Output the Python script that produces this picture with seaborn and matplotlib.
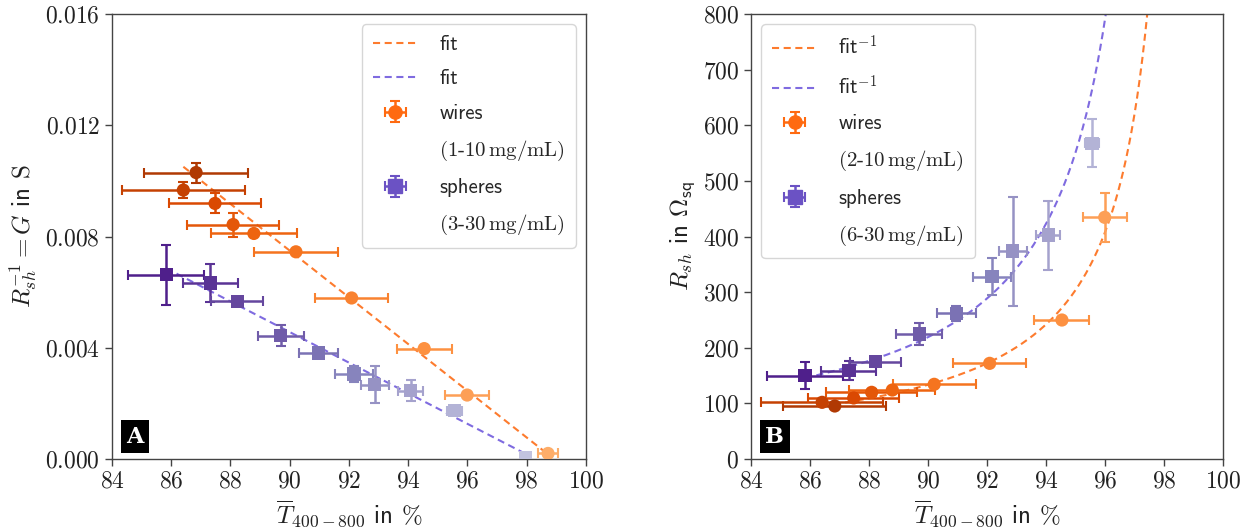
import numpy as np
import pandas as pd
import matplotlib
matplotlib.use("Agg")
import matplotlib.pyplot as plt
import matplotlib.ticker as ticker
from matplotlib.lines import Line2D
import seaborn as sns

# wires, ordered from highest to lowest concentration (10 ... 1 mg/mL)
wires_conc = [10, 9, 8, 7, 6, 5, 4, 3, 2, 1]
wires_T = [86.84, 86.41, 87.48, 88.09, 88.79, 90.21, 92.09, 94.54, 95.99, 98.72]
wires_T_err = [1.75, 2.07, 1.54, 1.55, 1.46, 1.41, 1.24, 0.93, 0.74, 0.35]
wires_G = [0.01030, 0.00967, 0.00919, 0.00843, 0.00811, 0.00745, 0.00579, 0.00397, 0.00230, 0.00020]
wires_G_err = [0.00036, 0.00030, 0.00036, 0.00043, 0.00010, 0.00010, 0.00008, 0.00008, 0.00010, 0.00005]
# sheet resistance, right panel (2 ... 10 mg/mL only)
wires_R = [95.3, 101.9, 109.7, 119.9, 124.0, 134.3, 172.0, 249.9, 434.5]
wires_R_err = [3, 3, 4, 6, 2, 2, 3, 6, 44]

# spheres, ordered from highest to lowest concentration (30 ... 3 mg/mL)
spheres_conc = [30, 27, 24, 21, 18, 15, 12, 9, 6, 3]
spheres_T = [85.83, 87.32, 88.23, 89.70, 90.96, 92.17, 92.87, 94.08, 95.56, 97.95]
spheres_T_err = [1.29, 0.93, 0.87, 0.78, 0.66, 0.65, 0.47, 0.41, 0.25, 0.15]
spheres_G = [0.00663, 0.00633, 0.00567, 0.00444, 0.00381, 0.00306, 0.00267, 0.00245, 0.00174, 0.00005]
spheres_G_err = [0.00108, 0.00069, 0.00010, 0.00038, 0.00010, 0.00030, 0.00067, 0.00038, 0.00008, 0.00002]
spheres_R = [149.8, 158.7, 174.9, 224.7, 261.9, 327.7, 373.9, 402.7, 567.6]
spheres_R_err = [24, 17, 5, 19.5, 14, 33.6, 98, 62, 43.5]

# linear fits G = slope * (T0 - T)
wires_fit = (0.00084, 98.92)
spheres_fit = (0.00055, 98.30)

sns.set_theme(style="ticks")
plt.rcParams["font.family"] = ["cmss10", "DejaVu Sans"]
plt.rcParams["mathtext.fontset"] = "cm"
plt.rcParams["axes.unicode_minus"] = False
plt.rcParams["axes.edgecolor"] = "#444444"
plt.rcParams["axes.linewidth"] = 1.0
plt.rcParams["xtick.color"] = "#444444"
plt.rcParams["ytick.color"] = "#444444"
plt.rcParams["xtick.labelcolor"] = "#222222"
plt.rcParams["ytick.labelcolor"] = "#222222"

oranges = sns.color_palette("Oranges", as_cmap=True)
purples = sns.color_palette("Purples", as_cmap=True)
wire_colors = [oranges(v) for v in np.linspace(0.85, 0.38, len(wires_conc))]
sphere_colors = [purples(v) for v in np.linspace(0.9, 0.35, len(spheres_conc))]
fit_orange = "#fd7b2e"
fit_purple = "#7f6be0"
legend_orange = "#ff6a10"
legend_purple = "#6b52c4"

ms = 9.5
dash = (0, (3.4, 2.2))
eb_kw = dict(fmt="none", elinewidth=1.8, capsize=3.5, capthick=1.5, zorder=2)


def draw_points(ax, T, Terr, Y, Yerr, conc, colors, marker):
    n = len(Y)
    df = pd.DataFrame({"T": T[:n], "Y": Y, "conc": conc[:n]})
    pal = {c: col for c, col in zip(conc[:n], colors[:n])}
    for t, te, y, ye, col in zip(T[:n], Terr[:n], Y, Yerr, colors[:n]):
        ax.errorbar(t, y, xerr=te, yerr=ye, ecolor=col, **eb_kw)
    sns.scatterplot(data=df, x="T", y="Y", hue="conc", palette=pal, marker=marker,
                    s=ms ** 2, linewidth=0, legend=False, zorder=3, ax=ax)


def fit_curve(T, fit, inverse=False):
    t = np.linspace(min(T), max(T), 400)
    g = fit[0] * (fit[1] - t)
    return t, (1.0 / g if inverse else g)


fig = plt.figure(figsize=(12.55, 5.29), dpi=100)
axA = fig.add_axes([0.0892, 0.1323, 0.3777, 0.8412])
axB = fig.add_axes([0.5984, 0.1323, 0.3761, 0.8412])

panels = [
    (axA, wires_G, wires_G_err, spheres_G, spheres_G_err, False, "fit",
     r"$(1$-$10\,\mathrm{mg/mL})$", r"$(3$-$30\,\mathrm{mg/mL})$", "upper right"),
    (axB, wires_R, wires_R_err, spheres_R, spheres_R_err, True, r"fit$^{-1}$",
     r"$(2$-$10\,\mathrm{mg/mL})$", r"$(6$-$30\,\mathrm{mg/mL})$", "upper left"),
]

for ax, wy, wye, sy, sye, inv, fitlab, wlab, slab, loc in panels:
    tw, yw = fit_curve(wires_T, wires_fit, inv)
    ts, ys = fit_curve(spheres_T, spheres_fit, inv)
    sns.lineplot(x=tw, y=yw, color=fit_orange, linewidth=1.5, ax=ax, zorder=1)
    l1 = ax.lines[-1]
    l1.set_linestyle(dash)
    sns.lineplot(x=ts, y=ys, color=fit_purple, linewidth=1.5, ax=ax, zorder=1)
    l2 = ax.lines[-1]
    l2.set_linestyle(dash)
    draw_points(ax, wires_T, wires_T_err, wy, wye, wires_conc, wire_colors, "o")
    draw_points(ax, spheres_T, spheres_T_err, sy, sye, spheres_conc, sphere_colors, "s")

    # proxies for the legend
    hw = ax.errorbar([np.nan], [np.nan], xerr=[1], yerr=[1], fmt="o", color=legend_orange,
                     ms=ms, elinewidth=1.8, capsize=3.5, capthick=1.5)
    hs = ax.errorbar([np.nan], [np.nan], xerr=[1], yerr=[1], fmt="s", color=legend_purple,
                     ms=ms, elinewidth=1.8, capsize=3.5, capthick=1.5)
    blank = Line2D([], [], color="none")
    ax.legend([l1, l2, hw, blank, hs, blank],
              [fitlab, fitlab, "wires", wlab, "spheres", slab],
              loc=loc, fontsize=15, handlelength=2.2, handletextpad=1.0,
              labelspacing=0.75, borderpad=0.5)

    ax.set_xlim(84, 100)
    ax.xaxis.set_major_locator(ticker.MultipleLocator(2))
    ax.xaxis.set_major_formatter(ticker.FuncFormatter(lambda v, p: f"${v:.0f}$"))
    ax.set_xlabel(r"$\overline{T}_{400-800}$ in $\%$", fontsize=18, color="#222222")
    ax.tick_params(labelsize=17, length=5, width=1)
    ax.set_ylabel("")

axA.set_ylim(0, 0.016)
axA.yaxis.set_major_locator(ticker.MultipleLocator(0.004))
axA.yaxis.set_major_formatter(ticker.FuncFormatter(lambda v, p: f"${v:.3f}$"))
axA.set_ylabel(r"$R_{sh}^{-1} = G$ in $\mathrm{S}$", fontsize=18, color="#222222")

axB.set_ylim(0, 800)
axB.yaxis.set_major_locator(ticker.MultipleLocator(100))
axB.yaxis.set_major_formatter(ticker.FuncFormatter(lambda v, p: f"${v:.0f}$"))
axB.set_ylabel(r"$R_{sh}$ in $\Omega_\mathsf{sq}$", fontsize=18, color="#222222")

for ax, letter in [(axA, "A"), (axB, "B")]:
    ax.text(0.03, 0.025, letter, transform=ax.transAxes, color="white", fontsize=16,
            fontweight="bold", family="DejaVu Serif", ha="left", va="bottom",
            bbox=dict(facecolor="black", edgecolor="none", pad=4), zorder=5)

plt.savefig("out.png", dpi=100)
plt.close()
